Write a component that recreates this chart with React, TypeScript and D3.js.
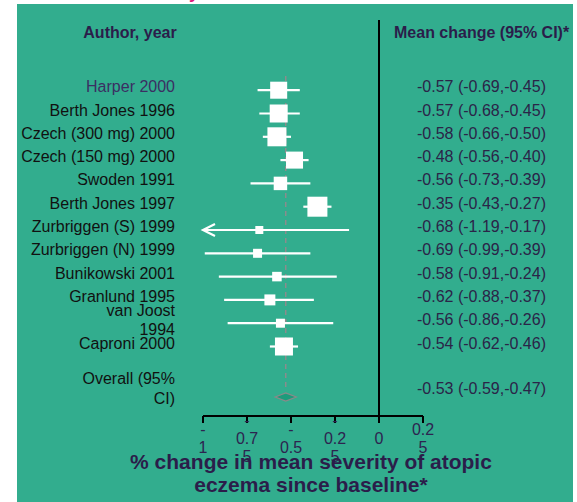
import React from "react";
import * as d3 from "d3";

// study rows (label lines, estimate, CI, weight %)
const studyLabels = [
  ["Harper 2000"],
  ["Berth Jones 1996"],
  ["Czech (300 mg) 2000"],
  ["Czech (150 mg) 2000"],
  ["Swoden 1991"],
  ["Berth Jones 1997"],
  ["Zurbriggen (S) 1999"],
  ["Zurbriggen (N) 1999"],
  ["Bunikowski 2001"],
  ["Granlund 1995"],
  ["van Joost", "1994"],
  ["Caproni 2000"],
];
const means = [-0.57, -0.57, -0.58, -0.48, -0.56, -0.35, -0.68, -0.69, -0.58, -0.62, -0.56, -0.54];
const lower = [-0.69, -0.68, -0.66, -0.56, -0.73, -0.43, -1.19, -0.99, -0.91, -0.88, -0.86, -0.62];
const upper = [-0.45, -0.45, -0.5, -0.4, -0.39, -0.27, -0.17, -0.39, -0.24, -0.37, -0.26, -0.46];
const weights = [11.8, 13.2, 14.7, 11.8, 7.4, 16.3, 2.6, 3.3, 3.7, 4.9, 3.3, 13.2];

const overallLabel = ["Overall (95%", "CI)"];
const overall = { mean: -0.53, lower: -0.59, upper: -0.47 };

const tickValues = [-1, -0.75, -0.5, -0.25, 0, 0.25];
const tickLabels = [["-", "1"], ["-", "0.7", "5"], ["-", "0.5"], ["-", "0.2", "5"], ["0"], ["0.2", "5"]];

const xTitle = ["% change in mean severity of atopic", "eczema since baseline*"];

const W = 577, H = 502;
const BG = "#32ad8e";
const DARK = "#2b1d4a";
const FONT = "'Liberation Sans', Arial, sans-serif";

// plain hyphen minus, like the original
const fmt = (v: number) => v.toFixed(2);

export default function App() {
  const x = d3.scaleLinear().domain([-1, 0.25]).range([203, 423]);
  const row = d3.scaleLinear().domain([0, studyLabels.length - 1]).range([86.7, 343]);
  const size = d3.scaleSqrt().domain([0, d3.max(weights) as number]).range([0, 20]);
  const axisY = 416;
  const overallY = 388;
  const xMin = x.domain()[0];

  return (
    <svg width={W} height={H} style={{ position: "absolute", left: 0, top: 0 }} fontFamily={FONT}>
      <rect x={17} y={4} width={556} height={H - 4} fill={BG} />
      <text x={199} y={-2} textAnchor="end" fontSize={18} fontWeight="bold" fill="#e0177a">Efficacy</text>

      {/* headers */}
      <text x={130} y={38} textAnchor="middle" fontSize={16} fontWeight="bold" fill={DARK}>Author, year</text>
      <text x={394} y={38} fontSize={16} fontWeight="bold" fill={DARK}>Mean change (95% CI)*</text>

      {/* zero line */}
      <line x1={x(0)} x2={x(0)} y1={20} y2={axisY} stroke="#000" strokeWidth={2} />

      {/* overall estimate reference */}
      <line x1={x(overall.mean)} x2={x(overall.mean)} y1={76} y2={overallY + 2}
        stroke="#8c8c8c" strokeWidth={1.5} strokeDasharray="5,4" />

      {studyLabels.map((lines, i) => {
        const cy = row(i);
        const my = cy + 3.5;
        const s = size(weights[i]);
        const clipped = lower[i] < xMin;
        const lx = clipped ? x(xMin) : x(lower[i]);
        return (
          <g key={i}>
            <text x={175} y={cy + 5.5 - (lines.length - 1) * 9.5} textAnchor="end" fontSize={16}
              fill={i === 0 ? "#3b2f63" : "#111"}>
              {lines.map((l, j) => (
                <tspan key={j} x={175} dy={j === 0 ? 0 : 19}>{l}</tspan>
              ))}
            </text>
            <line x1={lx} x2={x(upper[i])} y1={my} y2={my} stroke="#fff" strokeWidth={2.2} />
            {clipped && (
              <path d={`M${lx + 12},${my - 6}L${lx},${my}L${lx + 12},${my + 6}`} fill="none" stroke="#fff" strokeWidth={2.2} />
            )}
            <rect x={x(means[i]) - s / 2} y={my - s / 2} width={s} height={s} fill="#fff" />
            <text x={417} y={cy + 5.5} fontSize={16} fill="#2b2448">
              {`${fmt(means[i])} (${fmt(lower[i])},${fmt(upper[i])})`}
            </text>
          </g>
        );
      })}

      {/* overall */}
      <text x={175} y={overallY - 4.5} textAnchor="end" fontSize={16} fill="#111">
        {overallLabel.map((l, j) => (
          <tspan key={j} x={175} dy={j === 0 ? 0 : 20}>{l}</tspan>
        ))}
      </text>
      <path
        d={`M${x(overall.lower)},397L${x(overall.mean)},393L${x(overall.upper)},397L${x(overall.mean)},401Z`}
        fill="#1d9b7b" stroke="#8a8a8a" strokeWidth={1.2} />
      <text x={417} y={overallY + 5.5} fontSize={16} fill="#2b2448">
        {`${fmt(overall.mean)} (${fmt(overall.lower)},${fmt(overall.upper)})`}
      </text>

      {/* x axis */}
      <line x1={x(-1)} x2={x(0.25)} y1={axisY} y2={axisY} stroke="#000" strokeWidth={2} />
      {tickValues.map((t, i) => (
        <g key={t}>
          <line x1={x(t)} x2={x(t)} y1={axisY} y2={axisY + 7} stroke="#000" strokeWidth={2} />
          <text textAnchor="middle" fontSize={16} fill="#2d2450"
            y={438 + 5.5 - (tickLabels[i].length - 1) * 9}>
            {tickLabels[i].map((l, j) => (
              <tspan key={j} x={x(t)} dy={j === 0 ? 0 : 18}>{l}</tspan>
            ))}
          </text>
        </g>
      ))}
      <text textAnchor="middle" fontSize={21} fontWeight="bold" fill={DARK} y={469}>
        {xTitle.map((l, j) => (
          <tspan key={j} x={311} dy={j === 0 ? 0 : 23}>{l}</tspan>
        ))}
      </text>
    </svg>
  );
}
